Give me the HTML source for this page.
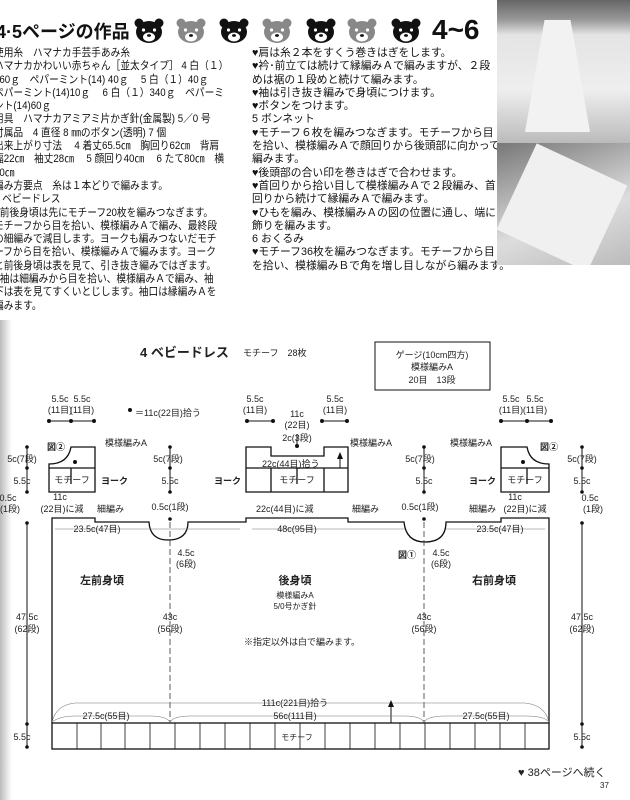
<!DOCTYPE html>
<html><head><meta charset="utf-8"><style>
body{margin:0;width:630px;height:800px;background:#fff;position:relative;overflow:hidden;font-family:"Liberation Sans","Noto Sans CJK JP",sans-serif;color:#111}
.t{position:absolute;white-space:nowrap;font-size:10.8px;line-height:13.3px;transform-origin:0 0}
</style></head><body>
<div style="position:absolute;left:0;top:320px;width:12px;height:480px;background:linear-gradient(90deg,#bbb,#eee 70%,#fff)"></div>
<div class="t" style="left:-4px;top:21px;font-size:18px;font-weight:bold;line-height:22px">4·5ページの作品</div>
<svg style="position:absolute;left:0;top:0" width="500" height="50">
<defs><g id="b"><circle cx="4" cy="5" r="4.5"/><circle cx="24" cy="5" r="4.5"/><ellipse cx="14" cy="14" rx="13" ry="11"/></g>
<g id="f"><ellipse cx="14" cy="19" rx="6" ry="4.5" fill="#fff"/><circle cx="8.5" cy="12" r="1.6" fill="#fff"/><circle cx="19.5" cy="12" r="1.6" fill="#fff"/><ellipse cx="14" cy="17.5" rx="2" ry="1.4" fill="#111"/></g></defs>
<g transform="translate(135,18)" fill="#111"><use href="#b"/><use href="#f"/></g>
<g transform="translate(177,18)" fill="#888"><use href="#b"/><use href="#f"/></g>
<g transform="translate(220,18)" fill="#111"><use href="#b"/><use href="#f"/></g>
<g transform="translate(263,18)" fill="#888"><use href="#b"/><use href="#f"/></g>
<g transform="translate(307,18)" fill="#111"><use href="#b"/><use href="#f"/></g>
<g transform="translate(348,18)" fill="#888"><use href="#b"/><use href="#f"/></g>
<g transform="translate(392,18)" fill="#111"><use href="#b"/><use href="#f"/></g>
</svg>
<div class="t" style="left:432px;top:14px;font-size:28px;font-weight:bold;line-height:32px">4~6</div>
<div class="t" style="left:-6px;top:47px;transform:scaleX(0.9)">使用糸　ハマナカ手芸手あみ糸<br>ハマナカかわいい赤ちゃん［並太タイプ］ 4 白（１）<br>360ｇ　ペパーミント(14) 40ｇ　 5 白（１）40ｇ<br>ペパーミント(14)10ｇ　 6 白（１）340ｇ　ペパーミ<br>ント(14)60ｇ<br>用具　ハマナカアミアミ片かぎ針(金属製) 5／0 号<br>付属品　4 直径 8 ㎜のボタン(透明) 7 個<br>出来上がり寸法　 4 着丈65.5㎝　胸回り62㎝　背肩<br>幅22㎝　袖丈28㎝　 5 顔回り40㎝　 6 たて80㎝　横<br>80㎝<br>編み方要点　糸は１本どりで編みます。<br>4 ベビードレス<br>♥前後身頃は先にモチーフ20枚を編みつなぎます。<br>モチーフから目を拾い、模様編みＡで編み、最終段<br>の細編みで減目します。ヨークも編みつないだモチ<br>ーフから目を拾い、模様編みＡで編みます。ヨーク<br>と前後身頃は表を見て、引き抜き編みではぎます。<br>♥袖は細編みから目を拾い、模様編みＡで編み、袖<br>下は表を見てすくいとじします。袖口は縁編みＡを<br>編みます。</div>
<div class="t" style="left:252px;top:47px">♥肩は糸２本をすくう巻きはぎをします。<br>♥衿･前立ては続けて縁編みＡで編みますが、２段<br>めは裾の１段めと続けて編みます。<br>♥袖は引き抜き編みで身頃につけます。<br>♥ボタンをつけます。<br>5 ボンネット<br>♥モチーフ６枚を編みつなぎます。モチーフから目<br>を拾い、模様編みＡで顔回りから後頭部に向かって<br>編みます。<br>♥後頭部の合い印を巻きはぎで合わせます。<br>♥首回りから拾い目して模様編みＡで２段編み、首<br>回りから続けて縁編みＡで編みます。<br>♥ひもを編み、模様編みＡの図の位置に通し、端に<br>飾りを編みます。<br>6 おくるみ<br>♥モチーフ36枚を編みつなぎます。モチーフから目<br>を拾い、模様編みＢで角を増し目しながら編みます。</div>
<div style="position:absolute;left:497px;top:0;width:133px;height:265px;overflow:hidden">
<div style="position:absolute;left:0;top:0;width:133px;height:143px;background:linear-gradient(180deg,#666 0,#999 20px,#e4e4e4 35px,#eee 90px,#bbb 143px)"></div>
<div style="position:absolute;left:28px;top:20px;width:65px;height:112px;background:#f2f2f2;clip-path:polygon(30% 0,70% 0,100% 100%,0 100%)"></div>
<div style="position:absolute;left:0;top:143px;width:133px;height:122px;background:linear-gradient(160deg,#777,#aaa 30%,#ddd 60%,#bbb)"></div>
<div style="position:absolute;left:15px;top:160px;width:100px;height:95px;background:#f0f0f0;transform:rotate(25deg)"></div>
</div>
<svg style="position:absolute;left:0;top:0" width="630" height="800" font-family="Liberation Sans,Noto Sans CJK JP,sans-serif" font-size="9" fill="#222">
<g stroke="#111" fill="none" stroke-width="1.3">
<rect x="375" y="342" width="115" height="48" stroke-width="1"/>
<path d="M49 492 V464 Q68 464 71 447 H95 V492 Z"/><line x1="49" y1="468" x2="95" y2="468"/><line x1="71" y1="468" x2="71" y2="484"/>
<path d="M549 492 V464 Q530 464 527 447 H501 V492 Z"/><line x1="501" y1="468" x2="549" y2="468"/><line x1="527" y1="468" x2="527" y2="484"/>
<path d="M246 492 V447 H271 V456 H324 V447 H348 V492 Z"/><line x1="246" y1="468" x2="348" y2="468"/><line x1="271" y1="468" x2="271" y2="492"/><line x1="324" y1="468" x2="324" y2="492"/><line x1="297" y1="468" x2="297" y2="484"/>
<path d="M52 723 V518 H95 V522 H149 Q150 540 168 540 Q188 540 188 522 H246 V518 H348 V522 H404 Q406 542 425 542 Q446 542 446 522 H501 V518 H549 V723"/>
<rect x="52" y="723" width="497" height="26"/>
</g>
<g stroke="#111" stroke-width="1">
<line x1="49" y1="421" x2="94" y2="421"/><line x1="247" y1="421" x2="273" y2="421"/><line x1="322" y1="421" x2="347" y2="421"/><line x1="501" y1="421" x2="551" y2="421"/>
<line x1="27" y1="447" x2="27" y2="492"/><line x1="170" y1="447" x2="170" y2="492"/><line x1="424" y1="447" x2="424" y2="492"/><line x1="582" y1="447" x2="582" y2="492"/>
<line x1="27" y1="523" x2="27" y2="748"/><line x1="582" y1="523" x2="582" y2="748"/>
<line x1="297" y1="446" x2="297" y2="434"/>
<line x1="391" y1="723" x2="391" y2="703"/><line x1="340" y1="468" x2="340" y2="455"/>
</g>
<g stroke="#111" stroke-width="0.8">
<path d="M125 723 v26 M150 723 v26 M175 723 v26 M200 723 v26 M225 723 v26 M250 723 v26 M275 723 v26 M300 723 v26 M325 723 v26 M350 723 v26 M375 723 v26 M400 723 v26 M425 723 v26 M450 723 v26 M475 723 v26 M500 723 v26 M525 723 v26 M77 723 v26 M101 723 v26"/>
</g>
<g stroke="#333" stroke-width="0.8" stroke-dasharray="6 3"><line x1="170" y1="522" x2="170" y2="723"/><line x1="424" y1="522" x2="424" y2="723"/></g>
<g stroke="#777" stroke-width="0.6" fill="none">
<path d="M52 722 Q56 705 75 703 H525 Q545 705 549 722"/><path d="M52 722 Q60 716 75 716 H150 Q166 716 170 722 Q174 716 190 716 H405 Q420 716 424 722 Q428 716 445 716 H525 Q545 716 549 722"/>
<path d="M55 529 H240 M252 529 H405 M446 529 H545"/>
</g>
<polygon points="391,700 388,707 394,707" fill="#111"/><polygon points="340,452 337,459 343,459" fill="#111"/>
<g fill="#111">
<circle cx="49" cy="421" r="2"/><circle cx="71" cy="421" r="2"/><circle cx="94" cy="421" r="2"/><circle cx="247" cy="421" r="2"/><circle cx="273" cy="421" r="2"/><circle cx="322" cy="421" r="2"/><circle cx="347" cy="421" r="2"/><circle cx="501" cy="421" r="2"/><circle cx="527" cy="421" r="2"/><circle cx="551" cy="421" r="2"/>
<circle cx="130" cy="410" r="2"/><circle cx="75" cy="462" r="2"/><circle cx="523" cy="462" r="2"/><circle cx="297" cy="446" r="2"/>
<circle cx="27" cy="447" r="1.8"/><circle cx="27" cy="468" r="1.8"/><circle cx="27" cy="492" r="1.8"/><circle cx="170" cy="447" r="1.8"/><circle cx="170" cy="468" r="1.8"/><circle cx="170" cy="492" r="1.8"/><circle cx="424" cy="447" r="1.8"/><circle cx="424" cy="468" r="1.8"/><circle cx="424" cy="492" r="1.8"/><circle cx="582" cy="447" r="1.8"/><circle cx="582" cy="468" r="1.8"/><circle cx="582" cy="492" r="1.8"/>
<circle cx="27" cy="523" r="1.8"/><circle cx="582" cy="523" r="1.8"/><circle cx="170" cy="519" r="1.8"/><circle cx="424" cy="519" r="1.8"/><circle cx="27" cy="724" r="1.8"/><circle cx="27" cy="747" r="1.8"/><circle cx="582" cy="724" r="1.8"/><circle cx="582" cy="747" r="1.8"/>
</g>
<text x="140" y="357" font-size="13" font-weight="bold">4 ベビードレス</text>
<text x="243" y="356">モチーフ　28枚</text>
<text x="432" y="358" text-anchor="middle">ゲージ(10cm四方)</text><text x="432" y="370" text-anchor="middle">模様編みA</text><text x="432" y="383" text-anchor="middle">20目　13段</text>
<g text-anchor="middle">
<text x="60" y="402">5.5c</text><text x="82" y="402">5.5c</text><text x="60" y="413">(11目)</text><text x="82" y="413">(11目)</text>
<text x="255" y="402">5.5c</text><text x="335" y="402">5.5c</text><text x="255" y="413">(11目)</text><text x="335" y="413">(11目)</text>
<text x="297" y="417">11c</text><text x="297" y="428">(22目)</text><text x="297" y="441">2c(3段)</text>
<text x="511" y="402">5.5c</text><text x="535" y="402">5.5c</text><text x="511" y="413">(11目)</text><text x="535" y="413">(11目)</text>
<text x="22" y="462">5c(7段)</text><text x="22" y="484">5.5c</text><text x="168" y="462">5c(7段)</text><text x="170" y="484">5.5c</text>
<text x="420" y="462">5c(7段)</text><text x="424" y="484">5.5c</text><text x="582" y="462">5c(7段)</text><text x="582" y="484">5.5c</text>
<text x="8" y="501">0.5c</text><text x="10" y="512">(1段)</text><text x="590" y="501">0.5c</text><text x="593" y="512">(1段)</text>
<text x="170" y="510">0.5c(1段)</text><text x="420" y="510">0.5c(1段)</text>
<text x="60" y="500">11c</text><text x="62" y="512">(22目)に減</text><text x="515" y="500">11c</text><text x="525" y="512">(22目)に減</text>
<text x="97" y="532">23.5c(47目)</text><text x="297" y="532">48c(95目)</text><text x="500" y="532">23.5c(47目)</text>
<text x="186" y="556">4.5c</text><text x="186" y="567">(6段)</text><text x="441" y="556">4.5c</text><text x="441" y="567">(6段)</text>
<text x="102" y="584" font-size="11" font-weight="bold">左前身頃</text><text x="295" y="584" font-size="11" font-weight="bold">後身頃</text><text x="494" y="584" font-size="11" font-weight="bold">右前身頃</text>
<text x="295" y="598" font-size="8">模様編みA</text><text x="295" y="609" font-size="8">5/0号かぎ針</text>
<text x="170" y="620">43c</text><text x="170" y="632">(56段)</text><text x="424" y="620">43c</text><text x="424" y="632">(56段)</text>
<text x="27" y="620">47.5c</text><text x="27" y="632">(62段)</text><text x="582" y="620">47.5c</text><text x="582" y="632">(62段)</text>
<text x="302" y="645">※指定以外は白で編みます。</text>
<text x="295" y="706">111c(221目)拾う</text><text x="106" y="719">27.5c(55目)</text><text x="295" y="719">56c(111目)</text><text x="486" y="719">27.5c(55目)</text>
<text x="297" y="740" font-size="8">モチーフ</text><text x="72" y="483">モチーフ</text><text x="297" y="483">モチーフ</text><text x="525" y="483">モチーフ</text>
<text x="22" y="740">5.5c</text><text x="582" y="740">5.5c</text>
</g>
<text x="135" y="416">＝11c(22目)拾う</text>
<text x="101" y="484" font-weight="bold">ヨーク</text><text x="214" y="484" font-weight="bold">ヨーク</text><text x="469" y="484" font-weight="bold">ヨーク</text>
<text x="47" y="450" font-weight="bold">図②</text><text x="540" y="450" font-weight="bold">図②</text><text x="398" y="558" font-weight="bold">図①</text>
<text x="105" y="446">模様編みA</text><text x="350" y="446">模様編みA</text><text x="450" y="446">模様編みA</text>
<text x="97" y="512">細編み</text><text x="352" y="512">細編み</text><text x="469" y="512">細編み</text>
<text x="256" y="512">22c(44目)に減</text><text x="262" y="467">22c(44目)拾う</text>
<text x="518" y="776" font-size="11">♥ 38ページへ続く</text><text x="600" y="788" font-size="8">37</text>
</svg>
</body></html>
